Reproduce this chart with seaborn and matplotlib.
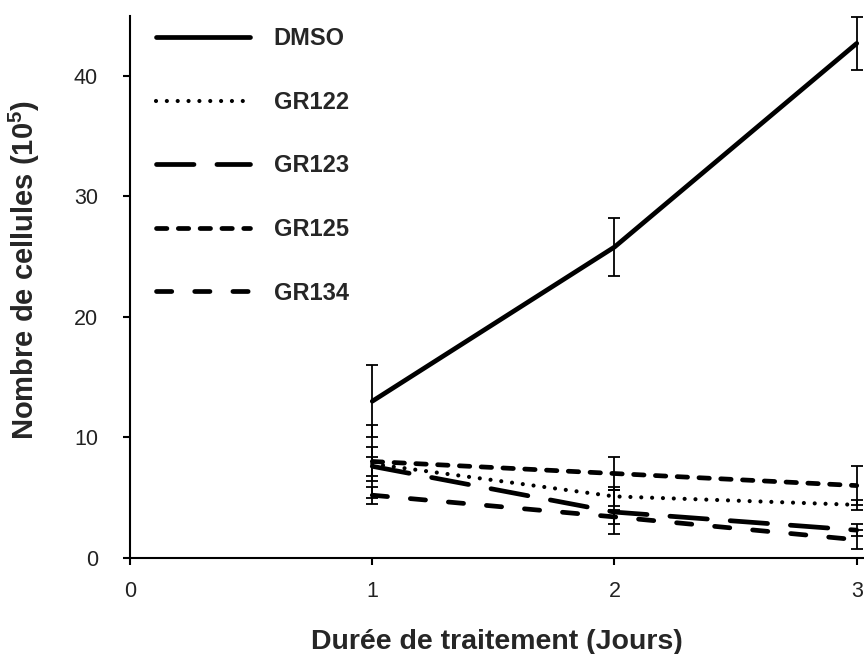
import matplotlib
matplotlib.use("Agg")
import matplotlib.pyplot as plt
import numpy as np
import pandas as pd
import seaborn as sns

# --- data ---
days = [1, 2, 3]
treatments = ["DMSO", "GR122", "GR123", "GR125", "GR134"]

dmso = [13.0, 25.8, 42.7]
gr122 = [7.8, 5.1, 4.4]
gr123 = [7.6, 3.8, 2.3]
gr125 = [8.0, 7.0, 6.0]
gr134 = [5.2, 3.4, 1.5]

dmso_err = [3.0, 2.4, 2.2]
gr122_err = [1.4, 0.8, 0.4]
gr123_err = [0.8, 1.8, 0.5]
gr125_err = [3.0, 1.4, 1.6]
gr134_err = [0.7, 0.6, 0.8]

values = [dmso, gr122, gr123, gr125, gr134]
errors = [dmso_err, gr122_err, gr123_err, gr125_err, gr134_err]

df = pd.DataFrame(
    {
        "Jour": days * len(treatments),
        "Cellules": sum(values, []),
        "Traitement": np.repeat(treatments, len(days)),
    }
)

sns.set_theme(style="ticks")
plt.rcParams["font.family"] = ["Liberation Sans", "DejaVu Sans"]
plt.rcParams["mathtext.fontset"] = "custom"
plt.rcParams["mathtext.rm"] = "Liberation Sans"
plt.rcParams["mathtext.bf"] = "Liberation Sans:bold"
plt.rcParams["lines.scale_dashes"] = False

# dash patterns in points (on, off), round caps add the line width
dash_map = {
    "DMSO": "",
    "GR122": (0.01, 7.8),
    "GR123": (27, 16.5),
    "GR125": (7.5, 8.2),
    "GR134": (11, 16.5),
}
lw_map = {"DMSO": 3.4, "GR122": 3.0, "GR123": 3.4, "GR125": 3.4, "GR134": 3.4}

fig, ax = plt.subplots(figsize=(8.64, 6.54), dpi=100)
fig.subplots_adjust(left=0.1505, right=1.0, bottom=0.147, top=0.976)

for name in treatments:
    sub = df[df["Traitement"] == name]
    sns.lineplot(
        data=sub, x="Jour", y="Cellules", ax=ax, color="black",
        linewidth=lw_map[name], dashes=False, legend=False,
        solid_capstyle="round", dash_capstyle="round", label=name,
    )
    line = ax.lines[-1]
    if dash_map[name]:
        line.set_dashes(dash_map[name])

handles = list(ax.lines[:len(treatments)])

for vals, errs in zip(values, errors):
    ax.errorbar(days, vals, yerr=errs, fmt="none", ecolor="black",
                elinewidth=1.3, capsize=4.3, capthick=1.3, zorder=3)

leg = ax.legend(
    handles, treatments, loc="upper left", bbox_to_anchor=(0.006, 1.018),
    frameon=False, handlelength=4.0, handletextpad=1.0, labelspacing=1.72,
    prop={"weight": "bold", "size": 17}, borderaxespad=0.5,
)

ax.set_xlim(0, 3.03)
ax.set_ylim(0, 45)
ax.set_xticks([0, 1, 2, 3])
ax.set_yticks([0, 10, 20, 30, 40])
ax.tick_params(axis="both", direction="out", length=5, width=1.5,
               labelsize=15.5, colors="black", labelcolor="#222222")
ax.tick_params(axis="y", pad=18)
ax.tick_params(axis="x", pad=12)
ax.set_xlabel("Durée de traitement (Jours)", fontsize=20.5, fontweight="bold", labelpad=19)
ax.set_ylabel(r"Nombre de cellules (10$^{\mathbf{5}}$)", fontsize=21, fontweight="bold")
ax.yaxis.set_label_coords(-0.12, 0.53)

sns.despine(ax=ax)
for side in ["left", "bottom"]:
    ax.spines[side].set_linewidth(1.5)
    ax.spines[side].set_color("black")

fig.savefig("out.png", dpi=100)
